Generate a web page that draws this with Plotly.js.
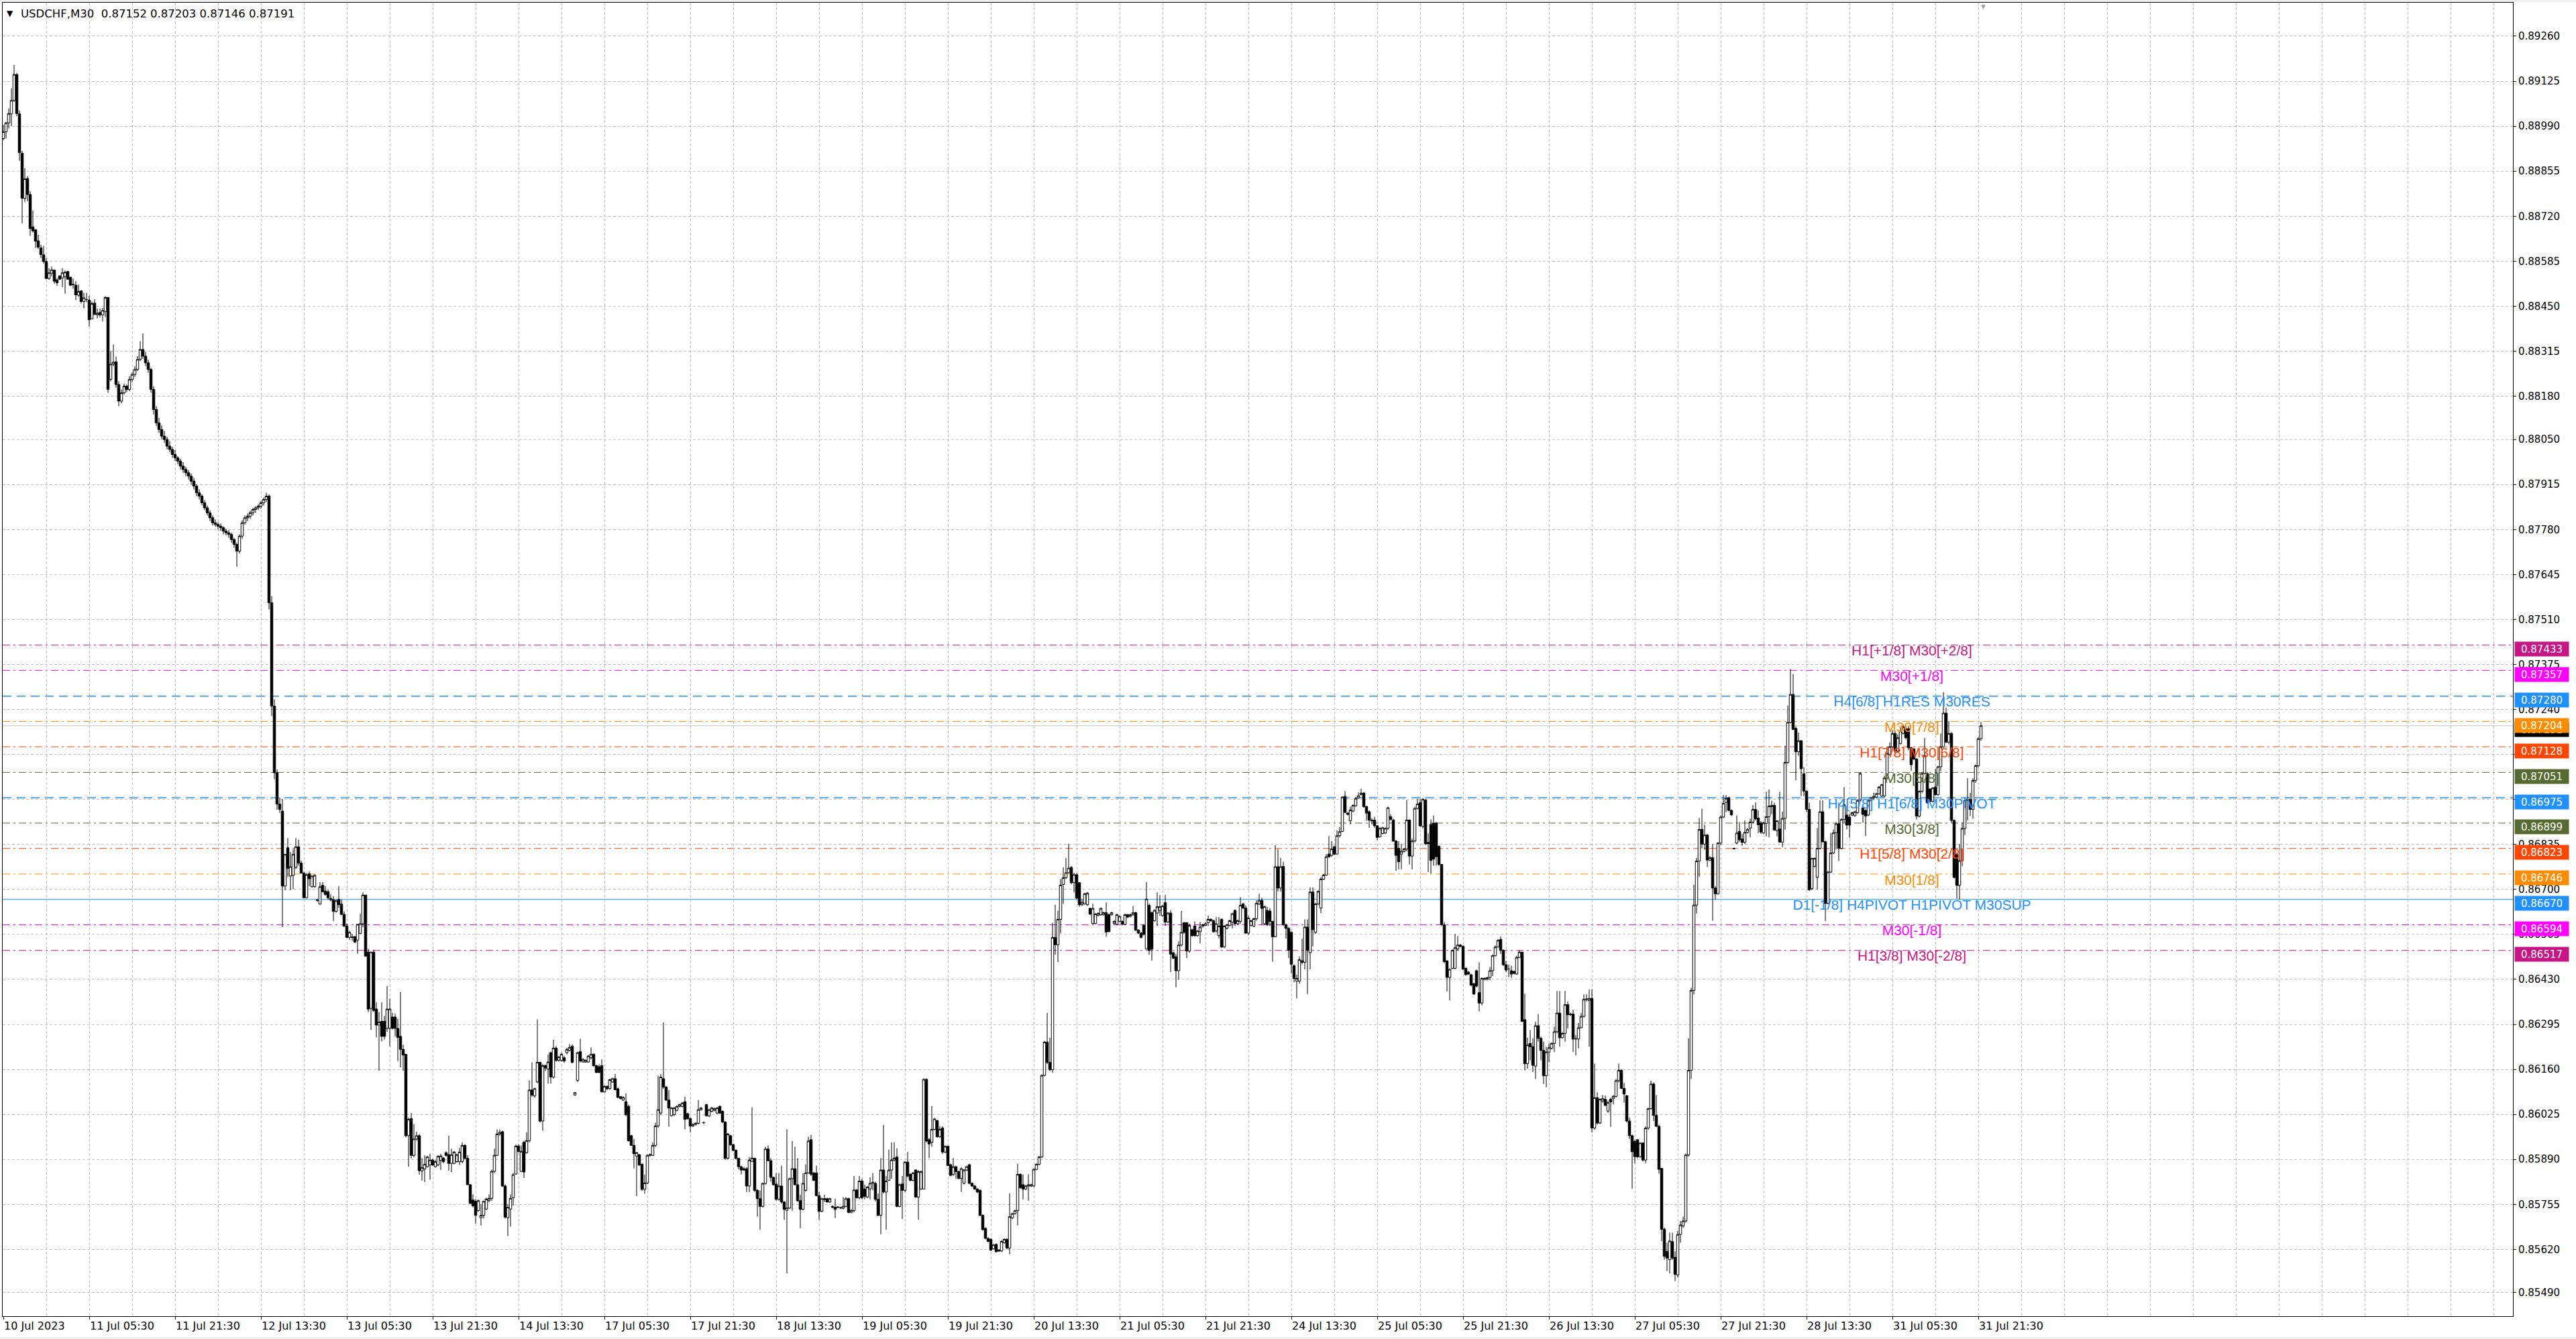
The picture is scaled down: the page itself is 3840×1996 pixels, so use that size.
<!DOCTYPE html>
<html><head><meta charset="utf-8">
<script src="https://cdn.plot.ly/plotly-3.0.1.min.js"></script>
<style>html,body{margin:0;padding:0;background:#fff;overflow:hidden}#chart{width:3840px;height:1996px}</style>
</head><body><div id="chart"></div>
<script>
// ---- header ----
const symbolTitle = 'USDCHF,M30';
const lastBarOHLC = ['0.87152', '0.87203', '0.87146', '0.87191'];

// ---- M30 bars, values in points (0.00001) above 0.80000 ----
const BASE = 0.8, POINT = 0.00001;
const openPts = [
8953,8973,9000,9027,9067,9145,9027,8909,8773,8833,8785,8688,8679,8646,8625,8604,8584,8533,8549,8558,
8529,8541,8535,8538,8554,8537,8515,8513,8483,8496,8464,8470,8468,8412,8459,8424,8431,8424,8434,8476,
8230,8276,8283,8215,8165,8190,8210,8200,8230,8245,8260,8290,8320,8300,8280,8260,8200,8140,8100,8080,
8060,8050,8030,8020,8005,7995,7985,7970,7960,7950,7940,7925,7910,7890,7880,7860,7845,7830,7815,7800,
7795,7790,7785,7775,7770,7765,7750,7735,7715,7760,7800,7815,7820,7830,7840,7845,7850,7860,7870,7880,
7560,7250,7050,6956,6935,6710,6825,6740,6742,6766,6828,6779,6749,6675,6747,6708,6708,6667,6656,6712,
6695,6693,6673,6669,6634,6670,6656,6625,6590,6556,6556,6558,6548,6568,6597,6683,6512,6343,6512,6341,
6293,6304,6304,6283,6283,6317,6317,6283,6259,6220,6205,5961,6012,5902,5951,5961,5855,5861,5868,5873,
5888,5868,5873,5887,5894,5910,5904,5878,5878,5883,5883,5883,5932,5893,5814,5768,5764,5736,5715,5722,
5741,5766,5773,5854,5902,5966,5973,5810,5715,5741,5775,5846,5930,5854,5941,5910,5946,6098,6080,6122,
6181,6005,6171,6161,6210,6137,6224,6187,6187,6195,6210,6217,6229,6083,6127,6213,6182,6182,6182,6195,
6205,6171,6168,6171,6093,6109,6102,6122,6132,6102,6078,6068,6063,6049,5961,5932,5900,5904,5875,5800,
5819,5902,5902,5932,5990,6029,6132,6107,6068,6021,6024,6037,6049,6049,6063,6027,6012,5990,5995,5998,
6039,6000,6054,6020,6034,6037,6029,6049,6034,6002,5893,5961,5934,5917,5893,5868,5862,5862,5810,5884,
5893,5797,5772,5749,5818,5921,5886,5836,5816,5770,5810,5762,5737,5744,5832,5862,5814,5766,5740,5797,
5849,5949,5849,5849,5781,5734,5769,5772,5762,5749,5746,5746,5744,5743,5749,5772,5731,5736,5798,5775,
5825,5801,5777,5801,5818,5818,5770,5722,5858,5792,5827,5858,5888,5897,5749,5816,5797,5882,5845,5827,
5858,5777,5801,5801,6130,5949,5941,5980,6006,5958,5984,5912,5929,5874,5845,5868,5853,5833,5818,5858,
5874,5818,5810,5801,5797,5722,5683,5653,5650,5622,5635,5618,5615,5640,5650,5624,5714,5727,5736,5845,
5814,5801,5810,5810,5810,5860,5875,5897,6142,6242,6181,6159,6556,6534,6610,6715,6735,6750,6766,6720,
6744,6720,6654,6657,6654,6643,6598,6598,6622,6624,6624,6630,6624,6624,6598,6595,6604,6604,6595,6624,
6619,6624,6630,6578,6569,6593,6521,6652,6630,6606,6629,6637,6621,6660,6602,6629,6510,6498,6456,6533,
6600,6600,6515,6579,6590,6561,6573,6589,6592,6600,6610,6606,6575,6561,6610,6527,6583,6592,6602,6637,
6597,6604,6656,6644,6569,6592,6590,6612,6656,6667,6597,6637,6635,6604,6558,6768,6704,6769,6594,6583,
6571,6471,6425,6425,6486,6481,6587,6510,6692,6571,6656,6644,6731,6743,6806,6802,6828,6806,6861,6874,
6979,6929,6906,6935,6951,6974,6985,6989,6948,6933,6905,6908,6891,6858,6868,6869,6883,6918,6908,6845,
6823,6806,6814,6821,6908,6800,6845,6943,6960,6889,6968,6841,6895,6899,6899,6829,6775,6594,6486,6436,
6463,6463,6521,6533,6529,6463,6452,6444,6417,6456,6390,6359,6430,6430,6436,6456,6501,6527,6550,6517,
6474,6461,6456,6454,6446,6496,6512,6309,6177,6238,6228,6170,6291,6253,6217,6141,6212,6223,6238,6273,
6329,6255,6268,6354,6324,6326,6251,6251,6285,6319,6370,6367,6373,5984,6075,5999,6065,6070,6035,6070,
6072,6079,6126,6157,6103,6081,6005,5961,5944,5949,5898,5939,5888,5984,6042,6116,6022,5989,5863,5680,
5614,5589,5643,5596,5543,5665,5690,5705,5903,6157,6397,6653,6785,6880,6836,6863,6788,6795,6704,6687,
6839,6917,6961,6975,6937,6823,6839,6874,6851,6841,6871,6884,6902,6940,6914,6899,6869,6898,6918,6948,
6952,6876,6881,6842,6913,7081,7201,7285,7183,7113,7146,7047,6995,6940,6702,6769,6736,6823,6933,6843,
6658,6752,6809,6870,6897,6823,6910,6923,6917,6923,6921,6930,6967,6945,6937,6923,6967,6974,6977,6987,
6980,6980,7034,7105,7128,7168,7115,7138,7168,7182,7182,7125,7121,7091,6920,6994,7048,7048,7001,6964,
7007,6984,7068,7128,7229,7142,7168,6907,6806,6712,6786,6883,6967,6970,6940,7027,7071,7152];
const highPts = [
8994,9003,9043,9104,9174,9150,9037,8916,8864,8840,8795,8737,8681,8664,8634,8631,8594,8564,8569,8560,
8533,8542,8564,8557,8555,8538,8533,8525,8515,8498,8490,8490,8481,8464,8471,8443,8443,8445,8480,8478,
8315,8335,8299,8225,8200,8218,8215,8240,8252,8270,8300,8345,8368,8312,8290,8265,8210,8150,8115,8092,
8075,8058,8045,8028,8018,8000,7992,7982,7968,7958,7948,7935,7915,7900,7885,7868,7852,7838,7822,7810,
7802,7798,7790,7782,7778,7770,7755,7740,7765,7808,7822,7828,7836,7845,7850,7856,7866,7876,7890,7885,
7580,7270,7060,6975,6971,6805,6854,6812,6820,6854,6849,6786,6753,6749,6754,6742,6745,6672,6722,6722,
6710,6698,6685,6680,6670,6710,6669,6634,6597,6576,6566,6561,6597,6627,6691,6683,6522,6512,6519,6361,
6332,6361,6320,6410,6371,6330,6327,6312,6392,6234,6205,6015,6029,5995,5973,5966,5893,5902,5900,5907,
5892,5888,5902,5907,5897,5914,5961,5922,5915,5907,5924,5941,5935,5902,5816,5785,5771,5770,5756,5766,
5775,5785,5859,5922,5980,5980,5976,5815,5756,5785,5849,5934,5935,5932,5946,5971,6127,6181,6105,6310,
6181,6176,6175,6205,6213,6249,6230,6200,6210,6200,6224,6236,6234,6092,6213,6252,6193,6190,6203,6226,
6208,6174,6175,6190,6112,6112,6132,6135,6146,6105,6080,6079,6088,6054,5963,5951,5912,5906,5878,5844,
5905,5908,5941,6000,6141,6146,6301,6110,6098,6047,6047,6052,6057,6062,6078,6030,6015,5998,6001,6068,
6047,6004,6057,6042,6047,6045,6047,6052,6037,6005,5969,5963,5937,5920,5893,5871,5866,5866,5897,6046,
5895,5801,5797,5820,5928,5932,5893,5838,5849,5849,5871,5765,5980,5835,5945,5928,5893,5784,5849,5875,
5958,5963,5852,5871,5792,5775,5784,5775,5775,5752,5772,5750,5748,5777,5777,5775,5740,5840,5801,5840,
5832,5814,5810,5836,5849,5823,5788,5894,5993,5840,5919,5941,5941,5923,5817,5840,5884,5912,5848,5852,
5860,5858,5856,6133,6133,5954,6050,6014,6009,5989,5989,5932,5931,5877,5894,5871,5856,5866,5861,5871,
5877,5821,5813,5804,5800,5725,5686,5656,5653,5636,5638,5620,5647,5653,5653,5788,5730,5739,5877,5848,
5845,5813,5845,5817,5863,5878,5900,6145,6245,6329,6255,6600,6654,6636,6731,6766,6794,6837,6770,6750,
6748,6722,6670,6690,6692,6646,6657,6629,6631,6646,6633,6661,6627,6633,6607,6627,6622,6607,6627,6627,
6627,6650,6633,6581,6572,6596,6722,6657,6634,6640,6691,6683,6653,6683,6632,6637,6513,6506,6544,6635,
6602,6602,6597,6582,6604,6578,6602,6597,6602,6621,6613,6609,6617,6617,6613,6593,6597,6609,6630,6640,
6609,6677,6659,6652,6621,6609,6615,6667,6687,6675,6651,6648,6644,6606,6833,6821,6794,6783,6597,6587,
6575,6475,6444,6498,6552,6610,6610,6706,6706,6660,6697,6737,6746,6806,6860,6845,6831,6877,6887,6979,
6995,6932,6948,6955,6976,6991,7002,6992,6951,6937,6914,6918,6893,6886,6888,6886,6948,6925,6912,6848,
6845,6837,6824,6968,6910,6852,6948,6972,6972,6974,6972,6868,6910,6922,6902,6832,6775,6601,6486,6463,
6520,6566,6560,6536,6532,6466,6455,6447,6420,6459,6481,6436,6436,6438,6467,6505,6532,6551,6559,6520,
6485,6474,6471,6456,6501,6517,6512,6387,6255,6278,6253,6303,6326,6258,6243,6228,6238,6241,6288,6395,
6395,6272,6395,6364,6330,6339,6263,6299,6329,6385,6385,6400,6400,6177,6091,6073,6083,6081,6065,6075,
6083,6131,6177,6160,6119,6083,6015,5964,5949,5951,5941,5941,5989,6045,6126,6121,6083,5994,5863,5685,
5640,5670,5670,5614,5675,5705,5718,5908,6253,6405,6714,6795,6914,6942,6894,6866,6800,6836,6709,6842,
6922,6983,6983,6978,6940,6825,6922,6902,6866,6907,6884,6912,6953,6961,6937,6905,6903,6993,7000,6966,
6960,6906,6993,6933,7131,7252,7361,7346,7189,7171,7148,7067,6997,6960,6795,6796,6884,6967,6967,6846,
6755,6869,6880,6903,6960,6913,7007,6950,6927,6933,6936,6970,7051,6950,6940,6970,6978,6990,6990,7010,
7017,7041,7128,7141,7178,7175,7165,7185,7195,7190,7190,7128,7124,7094,6997,7051,7155,7052,7004,7007,
7061,7071,7168,7292,7245,7205,7172,6910,6810,6836,6900,6974,7034,6990,7034,7075,7157,7203];
const lowPts = [
8948,8953,8983,8990,9063,9020,8886,8698,8762,8765,8661,8671,8625,8622,8594,8578,8531,8529,8540,8517,
8511,8530,8507,8488,8529,8510,8503,8468,8478,8458,8444,8462,8389,8411,8424,8413,8416,8404,8417,8190,
8225,8270,8205,8150,8158,8185,8192,8195,8222,8238,8255,8285,8292,8270,8250,8190,8125,8090,8070,8050,
8040,8020,8012,7995,7985,7975,7960,7950,7940,7930,7915,7900,7880,7870,7852,7838,7822,7805,7792,7788,
7780,7776,7765,7762,7755,7740,7725,7668,7708,7752,7795,7805,7812,7822,7830,7838,7842,7852,7862,7540,
7220,7030,6939,6930,6587,6698,6737,6698,6701,6761,6771,6747,6673,6673,6710,6705,6705,6663,6654,6691,
6681,6669,6664,6605,6630,6644,6623,6587,6554,6548,6546,6539,6507,6566,6587,6498,6332,6278,6332,6256,
6156,6244,6250,6273,6229,6280,6259,6185,6166,6156,5956,5868,5893,5896,5946,5844,5826,5822,5865,5829,
5870,5865,5870,5858,5878,5898,5856,5852,5875,5880,5873,5878,5890,5813,5756,5746,5697,5733,5692,5712,
5738,5761,5766,5849,5900,5961,5807,5712,5660,5688,5751,5844,5910,5852,5834,5907,5941,6078,6075,6119,
6000,5976,6155,6117,6117,6132,6183,6183,6183,6180,6205,6214,6178,6081,6122,6181,6180,6180,6180,6190,
6168,6148,6148,6090,6090,6098,6099,6120,6097,6073,6070,6065,6019,5943,5930,5863,5780,5870,5795,5787,
5816,5898,5900,5927,5985,6024,6102,6065,5988,6018,6020,6034,6046,6046,5980,6009,5971,5987,5992,5995,
6036,5996,6018,6017,6031,6034,6026,6026,5999,5888,5890,5930,5914,5890,5860,5845,5855,5792,5792,5882,
5792,5718,5679,5745,5814,5884,5823,5811,5766,5766,5757,5709,5548,5741,5736,5812,5762,5683,5737,5793,
5847,5840,5825,5779,5709,5731,5762,5760,5759,5743,5714,5743,5741,5740,5746,5728,5728,5731,5772,5770,
5770,5770,5774,5770,5797,5764,5719,5665,5788,5679,5825,5832,5884,5746,5746,5711,5792,5836,5824,5824,
5774,5709,5798,5801,5941,5894,5928,5977,5955,5954,5906,5909,5870,5839,5840,5832,5830,5792,5815,5855,
5815,5807,5798,5789,5719,5676,5650,5641,5615,5619,5610,5612,5612,5637,5621,5605,5711,5724,5692,5802,
5770,5798,5766,5807,5807,5857,5872,5894,6139,6176,6155,6150,6504,6482,6569,6657,6731,6748,6715,6691,
6670,6648,6650,6654,6651,6623,6595,6595,6619,6621,6621,6558,6571,6621,6595,6592,6601,6592,6592,6614,
6616,6621,6575,6566,6553,6562,6521,6504,6486,6603,6590,6621,6618,6590,6599,6452,6491,6406,6429,6529,
6567,6494,6510,6558,6558,6558,6538,6586,6590,6590,6603,6570,6571,6553,6524,6524,6580,6589,6583,6590,
6594,6597,6641,6566,6563,6589,6587,6606,6653,6594,6594,6590,6590,6483,6556,6694,6694,6590,6552,6494,
6448,6421,6373,6417,6475,6460,6386,6460,6529,6567,6653,6629,6728,6741,6795,6798,6803,6806,6856,6872,
6929,6922,6895,6932,6948,6972,6982,6945,6906,6885,6895,6885,6848,6855,6865,6866,6879,6906,6843,6756,
6760,6760,6811,6814,6775,6760,6841,6940,6887,6883,6833,6752,6748,6771,6771,6770,6590,6479,6394,6367,
6460,6461,6517,6526,6458,6441,6443,6410,6383,6406,6334,6352,6427,6427,6428,6440,6499,6526,6506,6470,
6452,6437,6435,6445,6444,6494,6302,6157,6162,6187,6152,6131,6243,6187,6116,6106,6182,6220,6212,6268,
6228,6252,6243,6283,6320,6212,6202,6223,6283,6316,6364,6228,5971,5979,5994,5996,6060,6050,6030,5987,
6055,6075,6121,6101,6060,6000,5951,5802,5878,5893,5895,5883,5878,5979,6040,6005,5987,5847,5645,5589,
5555,5548,5589,5525,5535,5640,5685,5700,5898,6131,6385,6628,6738,6823,6819,6768,6785,6606,6669,6684,
6833,6914,6932,6934,6920,6820,6836,6843,6831,6836,6868,6856,6898,6907,6869,6866,6866,6859,6856,6926,
6876,6859,6840,6826,6879,7077,7198,7178,7027,7101,6980,6980,6933,6695,6698,6766,6700,6820,6840,6605,
6655,6749,6806,6820,6785,6820,6900,6880,6855,6920,6918,6927,6964,6900,6860,6920,6964,6968,6974,6984,
6977,6977,7030,7101,7124,7105,7112,7135,7165,7150,7118,7056,7088,6910,6916,6990,7045,6957,6961,6961,
6981,6981,7055,7125,7139,7135,6900,6733,6672,6670,6770,6863,6907,6920,6913,7020,7065,7146];
const closePts = [
8973,9000,9028,9067,9145,9028,8911,8774,8832,8785,8683,8676,8645,8627,8605,8584,8533,8550,8559,8525,
8520,8531,8550,8552,8531,8513,8515,8484,8494,8464,8475,8470,8409,8458,8425,8429,8424,8437,8476,8200,
8276,8282,8215,8165,8190,8210,8200,8230,8245,8260,8290,8320,8300,8280,8260,8200,8140,8100,8080,8060,
8050,8030,8020,8005,7995,7985,7970,7960,7950,7940,7925,7910,7890,7880,7860,7845,7830,7815,7800,7795,
7790,7785,7775,7770,7765,7750,7735,7715,7760,7800,7815,7820,7830,7840,7845,7850,7860,7870,7880,7560,
7250,7050,6956,6940,6710,6805,6763,6768,6805,6828,6779,6749,6675,6744,6732,6740,6742,6668,6708,6693,
6685,6675,6669,6634,6666,6654,6625,6590,6556,6571,6557,6542,6595,6597,6683,6500,6341,6512,6337,6293,
6302,6259,6259,6341,6341,6283,6283,6256,6220,6203,5961,6010,5902,5951,5961,5856,5865,5875,5897,5888,
5873,5883,5899,5900,5883,5902,5878,5904,5912,5904,5912,5932,5893,5814,5758,5751,5722,5766,5722,5764,
5771,5773,5854,5902,5966,5971,5810,5717,5746,5773,5844,5930,5914,5914,5852,5946,6098,6083,6102,6181,
6005,6171,6164,6182,6137,6224,6187,6197,6205,6185,6220,6226,6181,6090,6210,6185,6190,6187,6200,6205,
6171,6151,6151,6093,6109,6102,6129,6132,6099,6076,6073,6076,6024,5946,5932,5907,5910,5873,5800,5819,
5902,5904,5932,5990,6039,6137,6107,6068,6044,6044,6044,6049,6054,6059,6010,6012,5990,5995,5998,6039,
6044,6000,6021,6039,6044,6042,6044,6029,6002,5893,5966,5934,5917,5893,5868,5858,5858,5810,5888,5894,
5797,5772,5749,5818,5921,5886,5836,5814,5770,5810,5762,5740,5744,5832,5862,5814,5766,5740,5818,5849,
5945,5845,5827,5781,5734,5772,5772,5762,5772,5746,5740,5747,5745,5749,5772,5731,5737,5798,5775,5825,
5775,5779,5807,5818,5821,5770,5722,5858,5792,5825,5858,5888,5894,5749,5814,5797,5882,5840,5827,5849,
5777,5853,5853,6130,5945,5936,5980,6011,5958,5980,5912,5929,5871,5842,5868,5853,5833,5862,5858,5868,
5818,5810,5801,5792,5722,5679,5653,5644,5618,5633,5613,5615,5644,5650,5624,5718,5727,5736,5845,5805,
5801,5810,5814,5814,5860,5875,5897,6142,6242,6181,6159,6556,6534,6610,6713,6735,6750,6764,6720,6744,
6674,6654,6661,6687,6689,6626,6643,6626,6628,6643,6630,6572,6574,6630,6604,6624,6619,6595,6624,6617,
6624,6630,6578,6569,6556,6565,6671,6517,6521,6637,6648,6648,6650,6602,6629,6506,6494,6456,6533,6571,
6571,6515,6592,6561,6561,6575,6587,6594,6597,6610,6606,6573,6597,6590,6527,6590,6594,6606,6627,6597,
6606,6652,6644,6569,6614,6606,6612,6658,6667,6643,6648,6594,6604,6558,6768,6704,6768,6594,6583,6517,
6475,6433,6433,6489,6481,6587,6517,6692,6579,6656,6694,6731,6743,6798,6798,6821,6806,6861,6873,6977,
6931,6925,6938,6952,6973,6981,6989,6948,6929,6908,6908,6891,6856,6883,6885,6883,6945,6910,6845,6802,
6783,6814,6821,6908,6800,6845,6943,6956,6891,6970,6837,6837,6787,6791,6798,6775,6594,6483,6436,6460,
6517,6525,6533,6529,6461,6444,6446,6413,6386,6410,6359,6433,6433,6435,6456,6501,6527,6547,6517,6474,
6458,6461,6446,6448,6496,6512,6304,6177,6233,6228,6172,6291,6253,6217,6141,6212,6225,6238,6273,6329,
6255,6268,6354,6324,6326,6251,6252,6285,6319,6370,6371,6373,5984,6075,5999,6070,6072,6052,6060,6062,
6079,6126,6157,6103,6086,6005,5961,5913,5898,5898,5939,5888,5984,6042,6116,6022,5989,5860,5680,5599,
5594,5645,5594,5545,5665,5693,5705,5903,6157,6397,6653,6785,6880,6836,6863,6788,6795,6704,6687,6839,
6917,6958,6973,6937,6924,6822,6869,6849,6841,6871,6880,6902,6940,6912,6894,6872,6899,6918,6950,6952,
6878,6906,6842,6913,7081,7201,7285,7180,7113,7146,7062,6995,6940,6699,6793,6793,6823,6933,6843,6658,
6752,6809,6870,6897,6823,6910,6954,6893,6893,6930,6933,6967,7048,6925,6920,6967,6975,6979,6987,7007,
7014,7034,7108,7128,7168,7115,7155,7175,7188,7155,7125,7074,7091,6920,6994,7048,7101,6960,6964,7004,
6984,7068,7128,7229,7142,7168,6907,6736,6712,6786,6883,6967,6970,6940,7027,7071,7152,7191];

// ---- axes ----
const xTickLabels = ['10 Jul 2023','11 Jul 05:30','11 Jul 21:30','12 Jul 13:30','13 Jul 05:30','13 Jul 21:30',
 '14 Jul 13:30','17 Jul 05:30','17 Jul 21:30','18 Jul 13:30','19 Jul 05:30','19 Jul 21:30','20 Jul 13:30',
 '21 Jul 05:30','21 Jul 21:30','24 Jul 13:30','25 Jul 05:30','25 Jul 21:30','26 Jul 13:30','27 Jul 05:30',
 '27 Jul 21:30','28 Jul 13:30','31 Jul 05:30','31 Jul 21:30'];
const BARS_PER_LABEL = 32;   // 16 hours of M30 bars between time labels
const yTickLabels = ['0.89260','0.89125','0.88990','0.88855','0.88720','0.88585','0.88450','0.88315',
 '0.88180','0.88050','0.87915','0.87780','0.87645','0.87510','0.87375','0.87240','0.87105','0.86970',
 '0.86835','0.86700','0.86565','0.86430','0.86295','0.86160','0.86025','0.85890','0.85755','0.85620','0.85490'];

// ---- Murrey / pivot levels ----
const levelPrices = [0.87433,0.87357,0.87280,0.87204,0.87128,0.87051,0.86975,0.86899,0.86823,0.86746,0.86670,0.86594,0.86517];
const levelLabels = ['H1[+1/8] M30[+2/8]','M30[+1/8]','H4[6/8] H1RES M30RES','M30[7/8]','H1[7/8] M30[6/8]','M30[5/8]',
 'H4[5/8] H1[6/8] M30PIVOT','M30[3/8]','H1[5/8] M30[2/8]','M30[1/8]','D1[-1/8] H4PIVOT H1PIVOT M30SUP','M30[-1/8]','H1[3/8] M30[-2/8]'];
const levelColors = ['#C71585','#FF00FF','#1E90FF','#FF8C00','#FF4500','#556B2F','#1E90FF','#556B2F','#FF4500','#FF8C00','#1E90FF','#FF00FF','#C71585'];
const levelStyles = ['dashdot','dashdot','dash','dashdot','dashdot','dashdot','dash','dashdot','dashdot','dashdot','solid','dashdot','dashdot'];
const bidPrice = 0.87191;

// ---- build ----
const toPrice = a => a.map(v => +(BASE + v * POINT).toFixed(5));
const xs = closePts.map((_, i) => i);
const dashMap = {dashdot: '11px,5px,3px,5px', dash: '13px,8px', solid: 'solid'};
const GRID = '#C4C4C4', GRIDDASH = '4px,3px';
const FONT = 'DejaVu Sans, Verdana, sans-serif';
const W = 3840, H = 1996, ML = 4, MR = 94, MT = 4, MB = 34;
const plotW = W - ML - MR, plotH = H - MT - MB;
const barPx = 4;                         // pixels per bar
const xRange = [-0.25, -0.25 + plotW / barPx];
const yRange = [0.854194, 0.893606];
const labelCenterX = xRange[0] + (2850 - ML) / barPx;

const labelTrace = {
  type: 'scatter', mode: 'text', x: levelPrices.map(() => labelCenterX), y: levelPrices,
  text: levelLabels, textposition: 'bottom center', hoverinfo: 'skip', showlegend: false,
  textfont: {family: 'Liberation Sans, Arial, sans-serif', size: 21, color: levelColors}, cliponaxis: false
};
const candles = {
  type: 'candlestick', x: xs, open: toPrice(openPts), high: toPrice(highPts), low: toPrice(lowPts), close: toPrice(closePts),
  increasing: {line: {color: '#000000', width: 1}, fillcolor: '#FFFFFF'},
  decreasing: {line: {color: '#000000', width: 1}, fillcolor: '#000000'},
  whiskerwidth: 0, hoverinfo: 'skip', showlegend: false
};

const shapes = [];
shapes.push({type: 'rect', xref: 'paper', yref: 'paper', x0: -ML/plotW, x1: 1 + MR/plotW, y0: 1 + MT/plotH, y1: 1 + (MT-3)/plotH, fillcolor: '#F0F0F0', line: {width: 0}, layer: 'below'});
shapes.push({type: 'rect', xref: 'paper', yref: 'paper', x0: -ML/plotW, x1: 1 + MR/plotW, y0: -(MB-3)/plotH, y1: -MB/plotH, fillcolor: '#F0F0F0', line: {width: 0}, layer: 'below'});
levelPrices.forEach((p, i) => shapes.push({
  type: 'line', xref: 'paper', x0: 0, x1: 1, yref: 'y', y0: p, y1: p, layer: 'between',
  line: {color: levelColors[i], width: levelStyles[i] === 'dash' ? 1.5 : 1, dash: dashMap[levelStyles[i]]}
}));
shapes.push({type: 'line', xref: 'paper', x0: 0, x1: 1, yref: 'y', y0: bidPrice, y1: bidPrice, layer: 'between', line: {color: '#C0C0C0', width: 1}});

const annotations = [];
const boxFont = {family: FONT, size: 15, color: '#FFFFFF'};
annotations.push({xref: 'paper', x: 1, xanchor: 'left', xshift: 2, yref: 'y', y: bidPrice, yanchor: 'middle', yshift: -6,
  text: bidPrice.toFixed(5), bgcolor: '#000000', font: boxFont, width: 78, height: 19, showarrow: false});
levelPrices.forEach((p, i) => annotations.push({xref: 'paper', x: 1, xanchor: 'left', xshift: 2, yref: 'y', y: p, yanchor: 'middle', yshift: -6,
  text: p.toFixed(5), bgcolor: levelColors[i], font: boxFont, width: 78, height: 19, showarrow: false}));
annotations.push({xref: 'paper', x: 0, xanchor: 'left', xshift: 4, yref: 'paper', y: 1, yanchor: 'middle', yshift: -16,
  text: '▼', font: {family: FONT, size: 12, color: '#000'}, showarrow: false});
annotations.push({xref: 'paper', x: 0, xanchor: 'left', xshift: 25, yref: 'paper', y: 1, yanchor: 'middle', yshift: -16,
  text: symbolTitle + '  ' + lastBarOHLC.join(' '), font: {family: FONT, size: 16.5, color: '#000'}, showarrow: false});
annotations.push({xref: 'paper', x: (2956 - ML) / plotW, xanchor: 'center', yref: 'paper', y: 1, yanchor: 'top', yshift: 1,
  text: '▼', font: {family: FONT, size: 9, color: '#A0A0A0'}, showarrow: false});

const layout = {
  width: W, height: H, margin: {l: ML, r: MR, t: MT, b: MB, pad: 0},
  paper_bgcolor: '#FFFFFF', plot_bgcolor: '#FFFFFF', showlegend: false, dragmode: false,
  font: {family: FONT, color: '#000'}, boxgap: 0.12, boxgroupgap: 0,
  xaxis: {
    range: xRange, rangeslider: {visible: false}, tickmode: 'array',
    tickvals: xTickLabels.map((_, k) => k * BARS_PER_LABEL), ticktext: xTickLabels,
    ticklabelposition: 'outside right', ticks: 'outside', ticklen: 4, tickcolor: '#000',
    tickfont: {family: FONT, size: 16, color: '#000'},
    showgrid: true, gridcolor: GRID, griddash: GRIDDASH, gridwidth: 1,
    minor: {tickmode: 'linear', tick0: 0, dtick: BARS_PER_LABEL / 2, showgrid: true, gridcolor: GRID, griddash: GRIDDASH, ticks: ''},
    showline: true, linecolor: '#000', linewidth: 1, mirror: true, zeroline: false, fixedrange: true
  },
  yaxis: {
    range: yRange, side: 'right', tickmode: 'array', tickvals: yTickLabels.map(Number), ticktext: yTickLabels,
    ticks: 'outside', ticklen: 4, tickcolor: '#000', tickfont: {family: FONT, size: 15, color: '#000'},
    showgrid: true, gridcolor: GRID, griddash: GRIDDASH, gridwidth: 1,
    showline: true, linecolor: '#000', linewidth: 1, mirror: true, zeroline: false, fixedrange: true
  },
  shapes, annotations
};
Plotly.newPlot('chart', [labelTrace, candles], layout, {staticPlot: true, displayModeBar: false});
</script>
</body></html>
